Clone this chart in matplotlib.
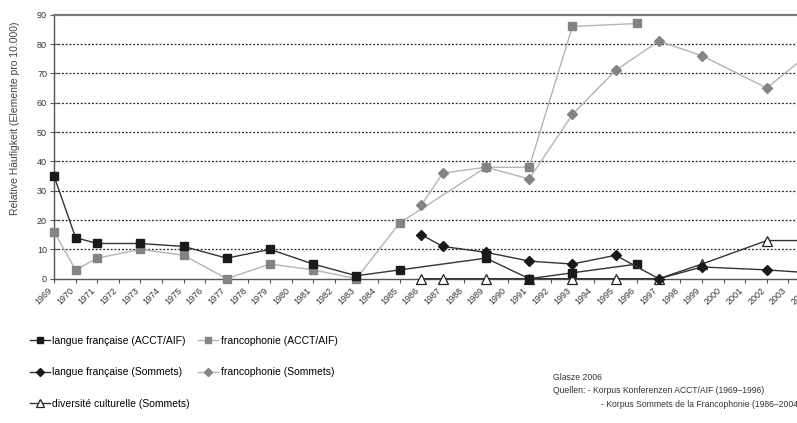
import matplotlib.pyplot as plt
import matplotlib.transforms as mtrans

# Konferenzen ACCT/AIF
years_acct = [1969, 1970, 1971, 1973, 1975, 1977, 1979, 1981, 1983, 1985, 1989, 1991, 1993, 1996]
langue_acct = [35, 14, 12, 12, 11, 7, 10, 5, 1, 3, 7, 0, 2, 5]
franco_acct = [16, 3, 7, 10, 8, 0, 5, 3, 0, 19, 38, 38, 86, 87]

# Sommets de la Francophonie
years_som = [1986, 1987, 1989, 1991, 1993, 1995, 1997, 1999, 2002, 2004]
langue_som = [15, 11, 9, 6, 5, 8, 0, 4, 3, 2]
franco_som = [25, 36, 38, 34, 56, 71, 81, 76, 65, 77]
diversite_som = [0, 0, 0, 0, 0, 0, 0, 5, 13, 13]

tick_years = list(range(1969, 2005))
y_ticks = list(range(0, 100, 10))

plt.rcParams['font.family'] = ['Liberation Sans', 'DejaVu Sans']

W, H = 797, 423
fig = plt.figure(figsize=(W / 100, H / 100), dpi=100)
# plot area runs past the right edge of the picture (cropped like the original)
ax = fig.add_axes([54 / W, 1 - 278.7 / H, 777.6 / W, 264 / H])

dark = '#1a1a1a'
grey_line = '#b4b4b4'
grey_mark = '#848484'

ax.plot(years_acct, franco_acct, color=grey_line, lw=1, marker='s', ms=6,
        mfc=grey_mark, mec=grey_mark, clip_on=False, zorder=3,
        label='francophonie (ACCT/AIF)')
ax.plot(years_som, franco_som, color=grey_line, lw=1, marker='D', ms=5.5,
        mfc=grey_mark, mec=grey_mark, clip_on=False, zorder=3,
        label='francophonie (Sommets)')
ax.plot(years_som, diversite_som, color='#333333', lw=1, marker='^', ms=7,
        mfc='white', mec='#222222', mew=0.9, clip_on=False, zorder=4,
        label='diversité culturelle (Sommets)')
ax.plot(years_acct, langue_acct, color='#333333', lw=1, marker='s', ms=6,
        mfc=dark, mec=dark, clip_on=False, zorder=5,
        label='langue française (ACCT/AIF)')
ax.plot(years_som, langue_som, color='#333333', lw=1, marker='D', ms=5.5,
        mfc=dark, mec=dark, clip_on=False, zorder=5,
        label='langue française (Sommets)')

ax.set_xlim(1969, 2005)
ax.set_ylim(0, 90)
ax.set_yticks(y_ticks)
ax.set_xticks(tick_years)
ax.set_xticklabels([str(y) for y in tick_years], rotation=45, ha='right',
                   fontsize=6.5, color='#333333')
ax.set_yticklabels([str(v) for v in y_ticks], fontsize=6.5, color='#333333')
shift = mtrans.ScaledTranslation(-7 / 100, 0, fig.dpi_scale_trans)
for lab in ax.get_xticklabels():
    lab.set_transform(lab.get_transform() + shift)

ax.tick_params(axis='x', direction='out', length=3, width=0.8, color='#555555', pad=2)
ax.tick_params(axis='y', direction='inout', length=6, width=0.8, color='#555555', pad=2)

for v in y_ticks[1:-1]:
    ax.axhline(v, color='#222222', lw=0.9, ls=(0, (1.5, 1.5)), zorder=1)

for side in ['left', 'bottom']:
    ax.spines[side].set_color('#555555')
    ax.spines[side].set_linewidth(1)
ax.spines['top'].set_color('#7a7a7a')
ax.spines['top'].set_linewidth(1.6)
ax.spines['right'].set_visible(False)

fig.text(15 / W, 1 - 118 / H, 'Relative Häufigkeit (Elemente pro 10.000)',
         rotation=90, ha='center', va='center', fontsize=7.5, color='#444444')

# legend: three rows, black series left column, grey series right
handles, labels = ax.get_legend_handles_labels()
order = [3, 4, 2, 0, 1]
fig.legend([handles[i] for i in order], [labels[i] for i in order],
           loc='upper left', bbox_to_anchor=(30 / W, 1 - 336 / H), ncol=2,
           frameon=False, fontsize=7.5, handlelength=1.9, handletextpad=0.25,
           labelspacing=2.05, columnspacing=0.8, borderpad=0, borderaxespad=0,
           markerscale=0.8)

src = dict(fontsize=6.2, color='#333333', va='center', ha='left')
fig.text(553 / W, 1 - 377 / H, 'Glasze 2006', **src)
fig.text(553 / W, 1 - 390 / H, 'Quellen: - Korpus Konferenzen ACCT/AIF (1969–1996)', **src)
fig.text(601 / W, 1 - 404 / H, '- Korpus Sommets de la Francophonie (1986–2004)', **src)

fig.savefig('out.png', dpi=100)
